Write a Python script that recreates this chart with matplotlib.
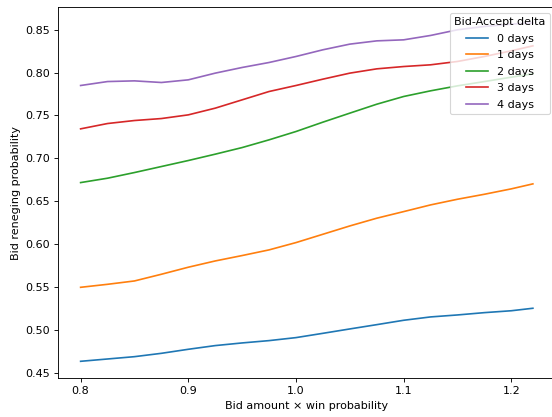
import numpy as np
import matplotlib
matplotlib.use("Agg")
import matplotlib.pyplot as plt

# x values (bid amount x win probability)
bid_x = [0.800, 0.825, 0.850, 0.875, 0.900, 0.925, 0.950, 0.975, 1.000,
         1.025, 1.050, 1.075, 1.100, 1.125, 1.150, 1.175, 1.200, 1.220]

# reneging probability per bid-accept delta
days_0 = [0.4636, 0.4663, 0.4690, 0.4729, 0.4776, 0.4819, 0.4850, 0.4877, 0.4912,
          0.4962, 0.5013, 0.5063, 0.5114, 0.5153, 0.5176, 0.5203, 0.5225, 0.5254]
days_1 = [0.5498, 0.5533, 0.5572, 0.5650, 0.5732, 0.5805, 0.5868, 0.5934, 0.6019,
          0.6116, 0.6213, 0.6303, 0.6380, 0.6458, 0.6524, 0.6582, 0.6645, 0.6703]
days_2 = [0.6718, 0.6769, 0.6835, 0.6905, 0.6975, 0.7049, 0.7126, 0.7216, 0.7313,
          0.7422, 0.7527, 0.7631, 0.7721, 0.7787, 0.7845, 0.7895, 0.7946, 0.7985]
days_3 = [0.7344, 0.7406, 0.7441, 0.7464, 0.7507, 0.7585, 0.7682, 0.7779, 0.7849,
          0.7923, 0.7993, 0.8043, 0.8070, 0.8090, 0.8129, 0.8187, 0.8253, 0.8311]
days_4 = [0.7849, 0.7895, 0.7903, 0.7884, 0.7915, 0.7993, 0.8059, 0.8117, 0.8187,
          0.8265, 0.8331, 0.8369, 0.8381, 0.8432, 0.8498, 0.8537, 0.8564, 0.8579]

labels = ["0 days", "1 days", "2 days", "3 days", "4 days"]
series = [days_0, days_1, days_2, days_3, days_4]

fig = plt.figure(figsize=(552 / 80, 417 / 80), dpi=80)
ax = fig.add_axes([58 / 552, 38.7 / 417, 497.5 / 552, 371 / 417])

for vals, lab in zip(series, labels):
    ax.plot(bid_x, vals, label=lab)

ax.set_xlim(0.779, 1.241)
ax.set_ylim(0.4438, 0.876)
ax.set_xticks([0.8, 0.9, 1.0, 1.1, 1.2])
ax.set_xlabel("Bid amount × win probability")
ax.set_ylabel("Bid reneging probability")
ax.legend(title="Bid-Accept delta", loc="upper right", labelspacing=0.58)

fig.savefig("out.png", dpi=80)
